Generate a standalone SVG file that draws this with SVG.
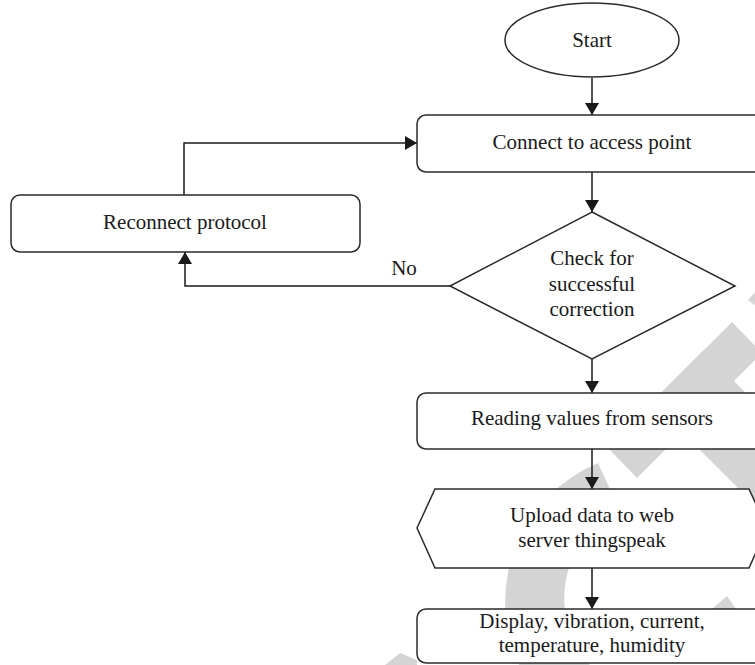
<svg xmlns="http://www.w3.org/2000/svg" width="755" height="665" viewBox="0 0 755 665">
<style>
.nd{fill:#fff;stroke:#2a2a2a;stroke-width:1.5}
.tx{font-family:"Liberation Serif","Times New Roman",serif;font-size:21px;fill:#1a1a1a;text-anchor:middle}
.ln{fill:none;stroke:#1a1a1a;stroke-width:1.5}
.wm{fill:#d4d4d4;stroke:none}
</style>
<defs>
<marker id="ah" viewBox="0 0 12 14" refX="12" refY="7" markerWidth="12" markerHeight="14" markerUnits="userSpaceOnUse" orient="auto">
<path d="M0,0 L12,7 L0,14 z" fill="#1a1a1a"/>
</marker>
</defs>
<rect width="755" height="665" fill="#fff"/>
<g id="watermark">
<polygon class="wm" points="732,322 607,447 637,478 770,345 770,360 762,353"/>
<polygon class="wm" points="703.5,350.5 652,402 770,520 770,417"/>
<path class="wm" d="M598,463 A150,150 0 0 0 713,741 L696,693 A100,100 0 0 1 619,509 Z"/>
<polygon class="wm" points="748,300 756,291 756,306"/>
<polygon class="wm" points="712,609 727,596 736,609"/>
<polygon class="wm" points="385,665 400,653 417,660 417,665"/>
</g>
<g id="connectors">
<path class="ln" d="M592,78 L592,115" marker-end="url(#ah)"/>
<path class="ln" d="M592,172 L592,212" marker-end="url(#ah)"/>
<path class="ln" d="M592,359 L592,393" marker-end="url(#ah)"/>
<path class="ln" d="M592,449 L592,489" marker-end="url(#ah)"/>
<path class="ln" d="M592,568 L592,609" marker-end="url(#ah)"/>
<path class="ln" d="M450,286 L185,286 L185,252" marker-end="url(#ah)"/>
<path class="ln" d="M184,195 L184,143 L417,143" marker-end="url(#ah)"/>
<text class="tx" x="404" y="275">No</text>
</g>
<g id="start">
<ellipse class="nd" cx="592" cy="40" rx="87" ry="37"/>
<text class="tx" x="592" y="47">Start</text>
</g>
<g id="connect">
<rect class="nd" x="417" y="115" width="350" height="57" rx="9"/>
<text class="tx" x="592" y="149">Connect to access point</text>
</g>
<g id="reconnect">
<rect class="nd" x="11" y="195" width="349" height="57" rx="9"/>
<text class="tx" x="185" y="229">Reconnect protocol</text>
</g>
<g id="check">
<polygon class="nd" points="592,212 735,286 592,359 450,286"/>
<text class="tx" x="592" y="265">Check for</text>
<text class="tx" x="592" y="291">successful</text>
<text class="tx" x="592" y="316">correction</text>
</g>
<g id="reading">
<rect class="nd" x="417" y="393" width="350" height="56" rx="9"/>
<text class="tx" x="592" y="425">Reading values from sensors</text>
</g>
<g id="upload">
<polygon class="nd" points="417,528 435,489 749,489 767,528 749,568 435,568"/>
<text class="tx" x="592" y="522">Upload data to web</text>
<text class="tx" x="592" y="547">server thingspeak</text>
</g>
<g id="display">
<rect class="nd" x="417" y="609" width="350" height="54" rx="9"/>
<text class="tx" x="592" y="628">Display, vibration, current,</text>
<text class="tx" x="592" y="652">temperature, humidity</text>
</g>
</svg>
